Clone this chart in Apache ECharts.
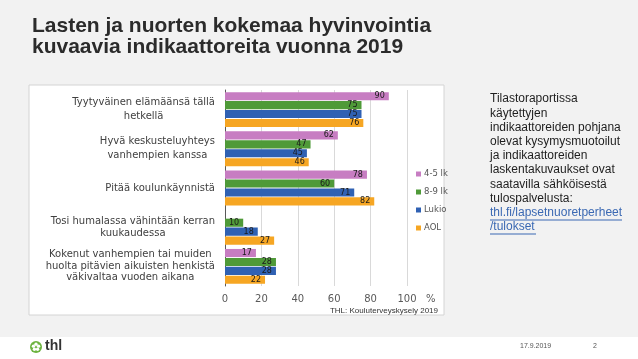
<!DOCTYPE html>
<html>
<head>
<meta charset="utf-8">
<script src="https://cdn.jsdelivr.net/npm/echarts@6/dist/echarts.min.js"></script>
<style>html,body{margin:0;padding:0;background:#f2f2f2;}#c{width:638px;height:359px;}</style>
</head>
<body>
<div id="c"></div>
<script>
const categories = [
  'Tyytyväinen elämäänsä tällä\nhetkellä',
  'Hyvä keskusteluyhteys\nvanhempien kanssa',
  'Pitää koulunkäynnistä',
  'Tosi humalassa vähintään kerran\nkuukaudessa',
  'Kokenut vanhempien tai muiden\nhuolta pitävien aikuisten henkistä\nväkivaltaa vuoden aikana'
];
const seriesNames = ['4-5 lk', '8-9 lk', 'Lukio', 'AOL'];
const lk45 = [90, 62, 78, null, 17];
const lk89 = [75, 47, 60, 10, 28];
const lukio = [75, 45, 71, 18, 28];
const aol = [76, 46, 82, 27, 22];
const xTicks = [0, 20, 40, 60, 80, 100];

const colors = ['#c77dc2', '#4f9a38', '#2f61b3', '#f6a623'];
const values = [lk45, lk89, lukio, aol];

const chart = echarts.init(document.getElementById('c'), null, {renderer: 'canvas'});
const FONT = 'DejaVu Sans';
const infoLines = ['Tilastoraportissa', 'käytettyjen', 'indikaattoreiden pohjana', 'olevat kysymysmuotoilut',
  'ja indikaattoreiden', 'laskentakuvaukset ovat', 'saatavilla sähköisestä', 'tulospalvelusta:'];
const linkLines = ['thl.fi/lapsetnuoretperheet', '/tulokset'];

const graphics = [
  {type: 'rect', z: -100, shape: {x: 29, y: 85, width: 415, height: 230}, style: {fill: '#ffffff', stroke: '#d4d4d4', lineWidth: 1}},
  {type: 'rect', z: -100, shape: {x: 0, y: 337, width: 638, height: 22}, style: {fill: '#ffffff'}},
  {type: 'text', left: 32, top: 15, style: {text: 'Lasten ja nuorten kokemaa hyvinvointia\nkuvaavia indikaattoreita vuonna 2019', font: 'bold 21px "Liberation Sans"', fill: '#2b2b2b', lineHeight: 21.7}},
  {type: 'text', left: 490, top: 92, style: {text: infoLines.join('\n'), font: '12px "Liberation Sans"', fill: '#1e1e1e', lineHeight: 14.2}},
  {type: 'text', left: 490, top: 205.6, style: {text: linkLines.join('\n'), font: '12px "Liberation Sans"', fill: '#3b69b3', lineHeight: 14.2}},
  {type: 'line', shape: {x1: 490, y1: 220, x2: 622, y2: 220}, style: {stroke: '#3b69b3', lineWidth: 1}},
  {type: 'line', shape: {x1: 490, y1: 234, x2: 536, y2: 234}, style: {stroke: '#3b69b3', lineWidth: 1}},
  {type: 'text', right: 200, top: 307, style: {text: 'THL: Kouluterveyskysely 2019', font: '8px "Liberation Sans"', fill: '#333'}},
  {type: 'circle', shape: {cx: 36, cy: 347, r: 6}, style: {fill: '#6cb33f'}},
  {type: 'text', left: 45, top: 339, style: {text: 'thl', font: 'bold 14px "Liberation Sans"', fill: '#333'}},
  {type: 'text', left: 520, top: 343, style: {text: '17.9.2019', font: '7px "Liberation Sans"', fill: '#555'}},
  {type: 'text', left: 593, top: 343, style: {text: '2', font: '7px "Liberation Sans"', fill: '#555'}}
];
for (let i = 0; i < 5; i++) {
  const a = -Math.PI / 2 + i * 2 * Math.PI / 5;
  graphics.push({type: 'circle', shape: {cx: 36 + 2.7 * Math.cos(a), cy: 347 + 2.7 * Math.sin(a), r: 1.7}, style: {fill: '#ffffff'}});
}

chart.setOption({
  backgroundColor: '#f2f2f2',
  animation: false,
  textStyle: {fontFamily: FONT},
  grid: {left: 225, right: 231, top: 90, bottom: 73, containLabel: false},
  legend: {
    orient: 'vertical', left: 411, top: 164, itemWidth: 5, itemHeight: 5, itemGap: 8,
    icon: 'rect', data: seriesNames,
    textStyle: {fontSize: 8.5, color: '#555', fontFamily: FONT, padding: [0, 0, 0, -2], lineHeight: 10}
  },
  xAxis: {
    type: 'value', min: 0, max: 100, interval: 20,
    axisLine: {show: false}, axisTick: {show: false},
    splitLine: {lineStyle: {color: '#d9d9d9'}},
    axisLabel: {color: '#595959', fontSize: 10, margin: 8, fontFamily: FONT,
      formatter: v => xTicks.includes(v) ? String(v) : ''},
    name: '%', nameLocation: 'end', nameGap: 19,
    nameTextStyle: {color: '#595959', fontSize: 10, verticalAlign: 'top', padding: [8, 0, 0, 0], fontFamily: FONT}
  },
  yAxis: {
    type: 'category', inverse: true, data: categories,
    axisLine: {show: true, lineStyle: {color: '#595959', width: 1}},
    axisTick: {show: false},
    axisLabel: {
      margin: 10, align: 'right',
      formatter: (v, idx) => {
        const cls = idx < 2 ? 'a' : 'b';
        return v.split('\n').map(l => '{' + cls + '|' + l + '}').join('\n');
      },
      rich: {
        a: {align: 'center', fontSize: 10, lineHeight: 14, color: '#404040', fontFamily: FONT},
        b: {align: 'center', fontSize: 10, lineHeight: 11.5, color: '#404040', fontFamily: FONT}
      }
    }
  },
  series: seriesNames.map((n, i) => ({
    name: n, type: 'bar', data: values[i],
    barGap: '10%', barCategoryGap: '11%',
    itemStyle: {color: colors[i]},
    label: {show: true, position: 'insideRight', distance: 4, fontSize: 8, color: '#1a1a1a', fontFamily: FONT}
  })),
  graphic: graphics
});
</script>
</body>
</html>
